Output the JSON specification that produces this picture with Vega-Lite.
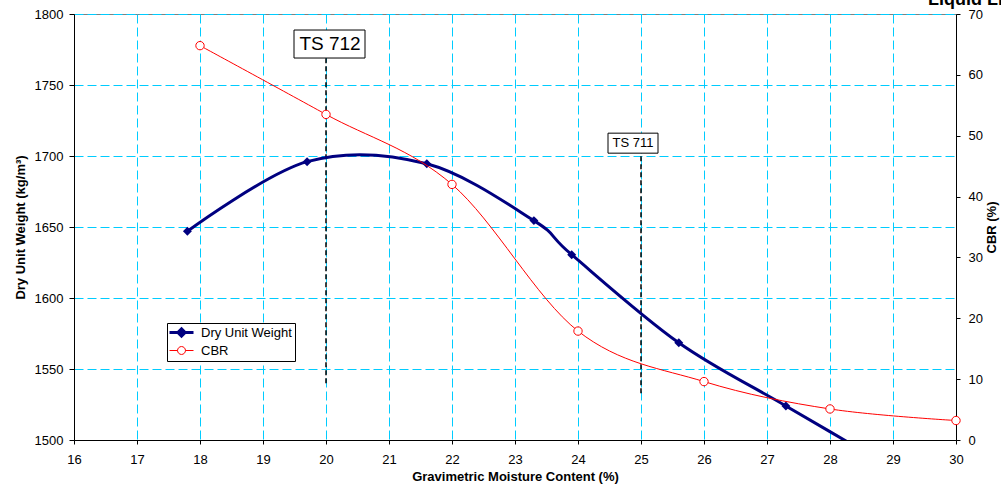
{
  "$schema": "https://vega.github.io/schema/vega-lite/v6.json",
  "width": 882,
  "height": 426,
  "autosize": "none",
  "padding": {"left": 74, "top": 14, "right": 45, "bottom": 48},
  "background": "white",
  "config": {
    "font": "Liberation Sans",
    "view": {"stroke": "#808080", "strokeWidth": 1},
    "axis": {
      "labelFont": "Liberation Sans", "labelFontSize": 13, "labelColor": "black",
      "titleFont": "Liberation Sans", "titleFontSize": 13, "titleFontWeight": "bold", "titleColor": "black",
      "domainColor": "black", "tickColor": "black", "domainWidth": 1, "tickWidth": 1,
      "gridColor": "#00CCFF", "gridDash": [9, 4], "gridWidth": 1, "gridOpacity": 1
    }
  },
  "datasets": {
    "duw": [
      {"x": 17.8, "y": 1647, "series": "Dry Unit Weight"},
      {"x": 19.7, "y": 1696, "series": "Dry Unit Weight"},
      {"x": 21.6, "y": 1694.5, "series": "Dry Unit Weight"},
      {"x": 23.3, "y": 1654.5, "series": "Dry Unit Weight"},
      {"x": 23.9, "y": 1630.5, "series": "Dry Unit Weight"},
      {"x": 25.6, "y": 1568.5, "series": "Dry Unit Weight"},
      {"x": 27.3, "y": 1524, "series": "Dry Unit Weight"},
      {"x": 29.0, "y": 1480, "series": "Dry Unit Weight"}
    ],
    "cbr": [
      {"x": 18, "cbr": 64.8, "series": "CBR"},
      {"x": 20, "cbr": 53.5, "series": "CBR"},
      {"x": 22, "cbr": 42.0, "series": "CBR"},
      {"x": 24, "cbr": 17.9, "series": "CBR"},
      {"x": 26, "cbr": 9.6, "series": "CBR"},
      {"x": 28, "cbr": 5.1, "series": "CBR"},
      {"x": 30, "cbr": 3.2, "series": "CBR"}
    ],
    "ts": [
      {"x": 20, "y": 1540, "y2": 1769, "label": "TS 712"},
      {"x": 25, "y": 1533, "y2": 1702, "label": "TS 711"}
    ]
  },
  "layer": [
    {
      "encoding": {
        "x": {"field": "x", "type": "quantitative", "scale": {"domain": [16, 30], "nice": false},
          "axis": {"values": [16,17,18,19,20,21,22,23,24,25,26,27,28,29,30], "format": "d", "title": "Gravimetric Moisture Content (%)", "grid": true, "tickSize": 4, "labelPadding": 9, "titlePadding": 4, "labelFlush": false}},
        "y": {"field": "y", "type": "quantitative", "scale": {"domain": [1500, 1800], "nice": false, "zero": false},
          "axis": {"values": [1500,1550,1600,1650,1700,1750,1800], "format": "d", "title": "Dry Unit Weight (kg/m³)", "grid": true, "tickSize": 5, "labelPadding": 6, "titlePadding": 7}}
      },
      "layer": [
        {
          "data": {"name": "ts"},
          "mark": {"type": "rule", "color": "black", "strokeDash": [5, 3], "strokeWidth": 1.5},
          "encoding": {"y2": {"field": "y2"}}
        },
        {
          "data": {"name": "ts"},
          "transform": [{"filter": "datum.label === 'TS 712'"}],
          "mark": {"type": "rect", "fill": "white", "stroke": "black", "strokeWidth": 1, "opacity": 1, "xOffset": -32, "x2Offset": 39, "yOffset": -28, "y2Offset": 0},
          "encoding": {"y": {"field": "y2"}, "x2": {"field": "x"}, "y2": {"field": "y2"}}
        },
        {
          "data": {"name": "ts"},
          "transform": [{"filter": "datum.label === 'TS 711'"}],
          "mark": {"type": "rect", "fill": "white", "stroke": "black", "strokeWidth": 1, "opacity": 1, "xOffset": -33, "x2Offset": 17, "yOffset": -20, "y2Offset": 0},
          "encoding": {"y": {"field": "y2"}, "x2": {"field": "x"}, "y2": {"field": "y2"}}
        },
        {
          "data": {"name": "ts"},
          "transform": [{"filter": "datum.label === 'TS 712'"}],
          "mark": {"type": "text", "fontSize": 19, "font": "Liberation Sans", "color": "black", "align": "center", "baseline": "middle", "dx": 4, "dy": -14},
          "encoding": {"y": {"field": "y2"}, "text": {"field": "label"}}
        },
        {
          "data": {"name": "ts"},
          "transform": [{"filter": "datum.label === 'TS 711'"}],
          "mark": {"type": "text", "fontSize": 13, "font": "Liberation Sans", "color": "black", "align": "center", "baseline": "middle", "dx": -8, "dy": -10},
          "encoding": {"y": {"field": "y2"}, "text": {"field": "label"}}
        },
        {
          "data": {"name": "ts"},
          "transform": [{"filter": "datum.label === 'TS 711'"}],
          "mark": {"type": "text", "text": "Liquid Limit", "fontSize": 18, "fontWeight": "bold", "font": "Liberation Sans", "color": "black", "align": "left", "baseline": "alphabetic", "dx": 287, "dy": -148},
          "encoding": {"y": {"field": "y2"}}
        },
        {
          "data": {"name": "duw"},
          "mark": {"type": "line", "interpolate": "cardinal", "strokeWidth": 3, "clip": true},
          "encoding": {
            "color": {"field": "series", "type": "nominal",
              "scale": {"domain": ["Dry Unit Weight", "CBR"], "range": ["#000080", "#FF0000"]},
              "legend": {"title": null, "orient": "none", "legendX": 93, "legendY": 309, "direction": "vertical",
                "strokeColor": "black", "fillColor": "white", "padding": 3, "cornerRadius": 0,
                "labelFont": "Liberation Sans", "labelFontSize": 13, "labelColor": "black", "labelOffset": 13, "rowPadding": 1,
                "symbolSize": 576, "symbolStrokeWidth": 1, "symbolOffset": 5,
                "encode": {"symbols": {"update": {
                  "shape": {"signal": "datum.value === 'CBR' ? 'M-1,0H-0.33M0.33,0H1M0.33,0A0.33,0.33,0,1,1,-0.33,0A0.33,0.33,0,1,1,0.33,0Z' : 'M-1,0H1M0,-0.3L0.3,0L0,0.3L-0.3,0Z'"},
                  "fill": {"signal": "datum.value === 'CBR' ? 'white' : '#000080'"},
                  "fillOpacity": {"signal": "datum.value === 'CBR' ? 0 : 1"},
                  "stroke": {"signal": "datum.value === 'CBR' ? '#FF0000' : '#000080'"},
                  "strokeWidth": {"signal": "datum.value === 'CBR' ? 1 : 3"},
                  "opacity": {"value": 1}
                }}}}
            }
          }
        },
        {
          "data": {"name": "duw"},
          "mark": {"type": "point", "shape": "diamond", "filled": true, "size": 80, "opacity": 1, "clip": true},
          "encoding": {
            "color": {"field": "series", "type": "nominal"}
          }
        }
      ]
    },
    {
      "data": {"name": "cbr"},
      "encoding": {
        "x": {"field": "x", "type": "quantitative", "axis": {"values": [16,17,18,19,20,21,22,23,24,25,26,27,28,29,30], "format": "d", "title": "Gravimetric Moisture Content (%)", "grid": true, "tickSize": 4, "labelPadding": 9, "titlePadding": 4, "labelFlush": false}},
        "y": {"field": "cbr", "type": "quantitative", "scale": {"domain": [0, 70], "nice": false},
          "axis": {"orient": "right", "values": [0,10,20,30,40,50,60,70], "title": "CBR (%)", "titleAngle": 270, "grid": false, "tickSize": 4, "labelPadding": 8, "titlePadding": 16}},
        "color": {"field": "series", "type": "nominal"}
      },
      "layer": [
        {
          "mark": {"type": "line", "interpolate": "cardinal", "strokeWidth": 1}
        },
        {
          "mark": {"type": "point", "shape": "circle", "filled": false, "fill": "white", "size": 70, "strokeWidth": 1, "opacity": 1}
        }
      ]
    }
  ],
  "resolve": {"scale": {"y": "independent"}}
}
